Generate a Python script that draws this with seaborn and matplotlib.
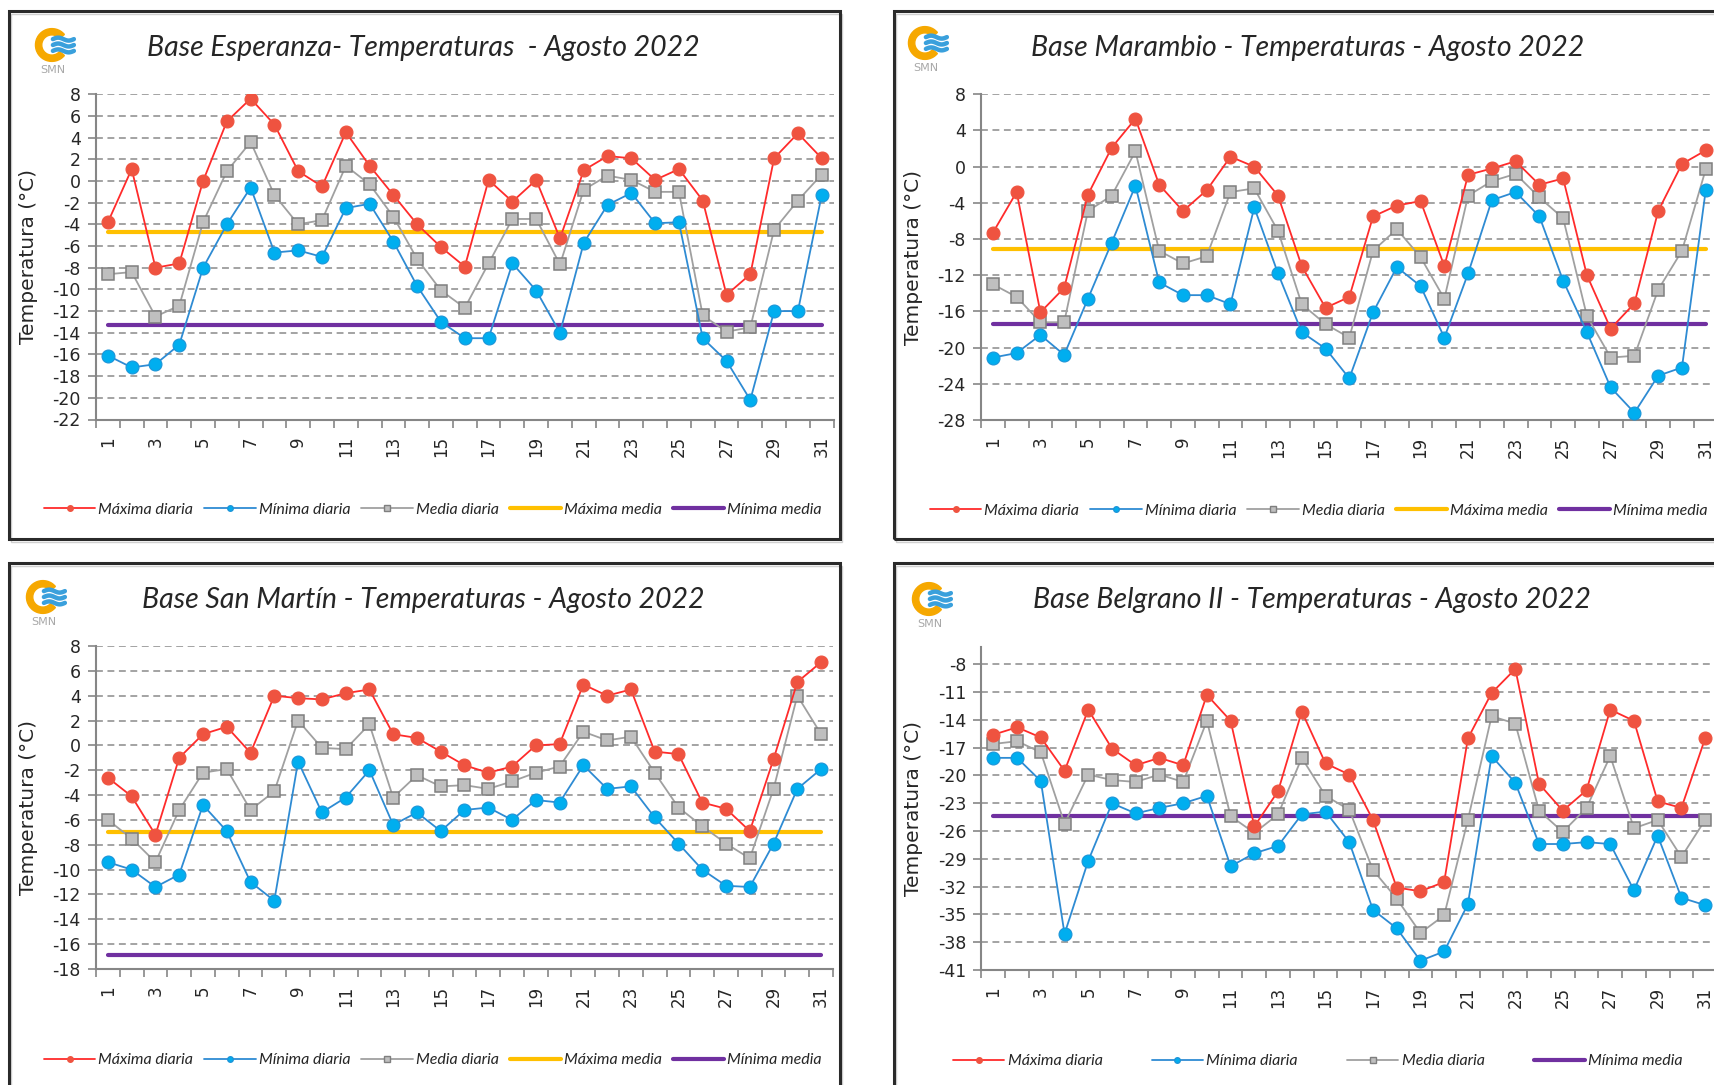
import numpy as np
import pandas as pd
import matplotlib
matplotlib.use("Agg")
import matplotlib.pyplot as plt
from matplotlib.patches import Rectangle, Wedge
from matplotlib.lines import Line2D
import seaborn as sns

# ---------------------------------------------------------------- data
days = list(range(1, 32))
day_labels = [str(d) for d in range(1, 32, 2)]

series_names = ["Máxima diaria", "Mínima diaria", "Media diaria", "Máxima media", "Mínima media"]

esperanza_title = "Base Esperanza- Temperaturas  - Agosto 2022"
esperanza_max = [-3.8, 1.1, -8.0, -7.6, 0.0, 5.5, 7.6, 5.2, 0.9, -0.5, 4.5, 1.4, -1.3, -4.0, -6.1, -7.9,
                 0.1, -1.9, 0.1, -5.3, 1.0, 2.3, 2.1, 0.1, 1.1, -1.8, -10.5, -8.6, 2.1, 4.4, 2.1]
esperanza_min = [-16.1, -17.2, -16.9, -15.1, -8.0, -4.0, -0.6, -6.6, -6.4, -7.0, -2.5, -2.1, -5.6, -9.7, -13.0, -14.5,
                 -14.5, -7.6, -10.1, -14.0, -5.7, -2.2, -1.1, -3.9, -3.8, -14.5, -16.6, -20.2, -12.0, -12.0, -1.3]
esperanza_med = [-8.6, -8.4, -12.5, -11.5, -3.8, 0.9, 3.6, -1.3, -4.0, -3.6, 1.4, -0.3, -3.3, -7.2, -10.1, -11.7,
                 -7.6, -3.5, -3.5, -7.7, -0.8, 0.5, 0.1, -1.0, -1.0, -12.4, -13.9, -13.5, -4.5, -1.8, 0.6]
esperanza_max_media = -4.7
esperanza_min_media = -13.3

marambio_title = "Base Marambio - Temperaturas - Agosto 2022"
marambio_max = [-7.3, -2.8, -16.1, -13.4, -3.1, 2.1, 5.3, -2.0, -4.9, -2.6, 1.1, 0.0, -3.2, -11.0, -15.6, -14.4,
                -5.5, -4.3, -3.8, -11.0, -0.9, -0.2, 0.6, -2.0, -1.3, -12.0, -17.9, -15.1, -4.9, 0.3, 1.8]
marambio_min = [-21.1, -20.6, -18.6, -20.8, -14.6, -8.4, -2.1, -12.8, -14.2, -14.2, -15.2, -4.5, -11.8, -18.3, -20.1, -23.4,
                -16.1, -11.1, -13.2, -18.9, -11.8, -3.7, -2.8, -5.5, -12.6, -18.3, -24.4, -27.2, -23.1, -22.2, -2.6]
marambio_med = [-13.0, -14.4, -17.2, -17.2, -4.9, -3.2, 1.7, -9.3, -10.7, -9.9, -2.8, -2.4, -7.1, -15.2, -17.4, -18.9,
                -9.3, -6.9, -10.0, -14.6, -3.2, -1.6, -0.8, -3.4, -5.7, -16.5, -21.1, -20.9, -13.6, -9.3, -0.3]
marambio_max_media = -9.1
marambio_min_media = -17.4

sanmartin_title = "Base San Martín - Temperaturas - Agosto 2022"
sanmartin_max = [-2.6, -4.1, -7.2, -1.0, 0.9, 1.5, -0.6, 4.0, 3.8, 3.7, 4.2, 4.5, 0.9, 0.6, -0.5, -1.6,
                 -2.2, -1.7, 0.0, 0.1, 4.9, 4.0, 4.5, -0.5, -0.7, -4.6, -5.1, -6.9, -1.1, 5.1, 6.7]
sanmartin_min = [-9.4, -10.0, -11.4, -10.4, -4.8, -6.9, -11.0, -12.5, -1.3, -5.4, -4.2, -2.0, -6.4, -5.4, -6.9, -5.2,
                 -5.0, -6.0, -4.4, -4.6, -1.6, -3.5, -3.3, -5.8, -7.9, -10.0, -11.3, -11.4, -7.9, -3.5, -1.9]
sanmartin_med = [-6.0, -7.5, -9.4, -5.2, -2.2, -1.9, -5.2, -3.7, 2.0, -0.2, -0.3, 1.7, -4.2, -2.4, -3.3, -3.2,
                 -3.5, -2.9, -2.2, -1.7, 1.1, 0.4, 0.7, -2.2, -5.0, -6.5, -7.9, -9.1, -3.5, 4.0, 0.9]
sanmartin_max_media = -7.0
sanmartin_min_media = -16.9

belgrano_title = "Base Belgrano II - Temperaturas - Agosto 2022"
belgrano_max = [-15.6, -14.8, -15.9, -19.5, -12.9, -17.1, -18.9, -18.1, -18.9, -11.3, -14.1, -25.5, -21.7, -13.1, -18.7, -19.9,
                -24.8, -32.1, -32.5, -31.5, -16.0, -11.1, -8.5, -20.9, -23.8, -21.6, -12.9, -14.1, -22.8, -23.5, -16.0]
belgrano_min = [-18.1, -18.1, -20.6, -37.1, -29.2, -23.0, -24.1, -23.5, -23.0, -22.2, -29.8, -28.4, -27.6, -24.2, -23.9, -27.2,
                -34.5, -36.5, -40.0, -39.0, -33.9, -17.9, -20.8, -27.4, -27.4, -27.2, -27.4, -32.4, -26.5, -33.2, -34.0]
belgrano_med = [-16.6, -16.3, -17.5, -25.2, -19.9, -20.5, -20.7, -19.9, -20.7, -14.1, -24.4, -26.2, -24.2, -18.1, -22.2, -23.7,
                -30.2, -33.3, -37.0, -35.1, -24.8, -13.6, -14.4, -23.8, -26.1, -23.5, -17.9, -25.7, -24.8, -28.8, -24.8]
belgrano_max_media = None
belgrano_min_media = -24.4

esperanza_yticks = list(range(-22, 9, 2))
marambio_yticks = list(range(-28, 9, 4))
sanmartin_yticks = list(range(-18, 9, 2))
belgrano_yticks = list(range(-41, -7, 3))

# ---------------------------------------------------------------- styling
W, H = 1715, 1085
sns.set_theme(style="white")
plt.rcParams["font.family"] = ["DejaVu Sans"]

C_MAX_LINE, C_MAX_MK = "#FF2B2B", "#EF5340"
C_MIN_LINE, C_MIN_MK, C_MIN_EDGE = "#2E8BD3", "#00AEEF", "#1D95D8"
C_MED_LINE, C_MED_MK, C_MED_EDGE = "#A0A0A0", "#BFBFBF", "#7F7F7F"
C_MAXMED = "#FFC000"
C_MINMED = "#7030A0"
C_AXIS = "#868686"
C_GRID = "#8A8A8A"
C_TEXT = "#262626"

TITLE_FONT = dict(family=["Lato", "DejaVu Sans"], style="italic", size=20.5, color=C_TEXT)
LEGEND_FONT = dict(family=["Lato", "DejaVu Sans"], style="italic", size=11.5)


def fig_box(x0, y0, x1, y1):
    return [x0 / W, 1 - y1 / H, (x1 - x0) / W, (y1 - y0) / H]


panels = [
    dict(title=esperanza_title, tmax=esperanza_max, tmin=esperanza_min, tmed=esperanza_med,
         maxmed=esperanza_max_media, minmed=esperanza_min_media, yticks=esperanza_yticks, ylim=(-22, 8),
         frame=(9, 11, 840, 539), axes=(96, 94.3, 833.6, 419.5), title_xy=(423, 48),
         logo_xy=(55, 45), legend_xy=(433, 510), legend_gap=0.7),
    dict(title=marambio_title, tmax=marambio_max, tmin=marambio_min, tmed=marambio_med,
         maxmed=marambio_max_media, minmed=marambio_min_media, yticks=marambio_yticks, ylim=(-28, 8),
         frame=(894, 11, 1730, 539), axes=(981, 94.3, 1717.6, 420), title_xy=(1308, 48),
         logo_xy=(928, 43), legend_xy=(1319, 511), legend_gap=0.7),
    dict(title=sanmartin_title, tmax=sanmartin_max, tmin=sanmartin_min, tmed=sanmartin_med,
         maxmed=sanmartin_max_media, minmed=sanmartin_min_media, yticks=sanmartin_yticks, ylim=(-18, 8),
         frame=(9, 563, 840, 1100), axes=(96, 646, 833, 969), title_xy=(423, 600),
         logo_xy=(46, 597), legend_xy=(433, 1060), legend_gap=0.7),
    dict(title=belgrano_title, tmax=belgrano_max, tmin=belgrano_min, tmed=belgrano_med,
         maxmed=belgrano_max_media, minmed=belgrano_min_media, yticks=belgrano_yticks, ylim=(-41, -6.1),
         frame=(894, 563, 1730, 1100), axes=(981.5, 646.7, 1717, 970), title_xy=(1312, 600),
         logo_xy=(932, 599), legend_xy=(1318, 1061), legend_gap=3.1),
]


def draw_logo(fig, cx, cy):
    size = 42
    lax = fig.add_axes(fig_box(cx - size / 2, cy - size / 2, cx + size / 2, cy + size / 2))
    lax.set_xlim(-1, 1)
    lax.set_ylim(-1, 1)
    lax.set_aspect("equal")
    lax.axis("off")
    lax.add_patch(Wedge((-0.15, 0.0), 0.78, 40, 320, width=0.3, color="#F6A800"))
    t = np.linspace(-0.1, 0.9, 40)
    for off in (0.28, 0.0, -0.28):
        lax.plot(t, off + 0.07 * np.sin((t + 0.1) * 2 * np.pi), color="#3AA0DC", lw=3.2,
                 solid_capstyle="round")
    fig.text((cx - 2) / W, 1 - (cy + 25) / H, "SMN", ha="center", va="center",
             fontsize=8, color="#A8A8A8")


fig = plt.figure(figsize=(W / 100, H / 100), dpi=100)
fig.patch.set_facecolor("white")

for p in panels:
    # panel frame
    x0, y0, x1, y1 = p["frame"]
    fig.patches.append(Rectangle((x0 / W, 1 - y1 / H), (x1 - x0) / W, (y1 - y0) / H,
                                 transform=fig.transFigure, fill=False,
                                 edgecolor="#2A2A2A", linewidth=2.2, zorder=0))
    fig.patches.append(Rectangle(((x0 + 2) / W, 1 - (y1 + 3) / H), (x1 - x0) / W, (y1 - y0) / H,
                                 transform=fig.transFigure, fill=False,
                                 edgecolor="#D0D0D0", linewidth=1.0, zorder=-1))

    ax = fig.add_axes(fig_box(*p["axes"]))
    ax.set_facecolor("none")

    # monthly mean lines
    if p["maxmed"] is not None:
        sns.lineplot(x=days, y=[p["maxmed"]] * len(days), ax=ax, color=C_MAXMED, lw=3.0,
                     legend=False, zorder=2)
    sns.lineplot(x=days, y=[p["minmed"]] * len(days), ax=ax, color=C_MINMED, lw=3.0,
                 legend=False, zorder=2)

    # daily series
    sns.lineplot(x=days, y=p["tmed"], ax=ax, color=C_MED_LINE, lw=1.3, marker="s", markersize=8.8,
                 markerfacecolor=C_MED_MK, markeredgecolor=C_MED_EDGE, markeredgewidth=1.1,
                 legend=False, zorder=3)
    sns.lineplot(x=days, y=p["tmin"], ax=ax, color=C_MIN_LINE, lw=1.3, marker="o", markersize=9.3,
                 markerfacecolor=C_MIN_MK, markeredgecolor=C_MIN_EDGE, markeredgewidth=0.8,
                 legend=False, zorder=4)
    sns.lineplot(x=days, y=p["tmax"], ax=ax, color=C_MAX_LINE, lw=1.3, marker="o", markersize=9.3,
                 markerfacecolor=C_MAX_MK, markeredgecolor=C_MAX_MK, markeredgewidth=0.8,
                 legend=False, zorder=5)

    ax.set_xlim(0.5, 31.5)
    ax.set_ylim(*p["ylim"])
    ax.set_yticks(p["yticks"])
    ax.set_yticklabels([str(v) for v in p["yticks"]])
    ax.set_xticks(range(1, 32, 2))
    ax.set_xticklabels(day_labels)
    ax.set_xticks(np.arange(0.5, 32, 1), minor=True)
    ax.set_xlabel("")
    ax.set_ylabel("Temperatura (°C)", fontsize=14.5, color=C_TEXT)
    # right edge of the rotated label sits about 29 px right of the panel frame
    ax.yaxis.set_label_coords(-(p["axes"][0] - p["frame"][0] - 29) / (p["axes"][2] - p["axes"][0]), 0.5)

    ax.yaxis.grid(True, linestyle=(0, (4.5, 3)), color=C_GRID, lw=1.1)
    ax.xaxis.grid(False)
    ax.set_axisbelow(True)
    for side in ("top", "right"):
        ax.spines[side].set_visible(False)
    for side in ("left", "bottom"):
        ax.spines[side].set_color(C_AXIS)
        ax.spines[side].set_linewidth(1.5)

    ax.tick_params(axis="y", which="major", direction="out", length=6, width=1.2, color=C_AXIS,
                   pad=5, labelsize=12.5, labelcolor=C_TEXT, left=True)
    ax.tick_params(axis="x", which="major", length=0, pad=12, labelsize=12, labelcolor=C_TEXT,
                   labelrotation=90, bottom=True)
    ax.tick_params(axis="x", which="minor", direction="out", length=6, width=1.2, color=C_AXIS,
                   bottom=True)

    # title and logo
    tx, ty = p["title_xy"]
    fig.text(tx / W, 1 - ty / H, p["title"], ha="center", va="center", **TITLE_FONT)
    draw_logo(fig, *p["logo_xy"])

    # legend
    handles = [
        Line2D([], [], color=C_MAX_LINE, lw=1.3, marker="o", markersize=4,
               markerfacecolor=C_MAX_MK, markeredgecolor=C_MAX_MK),
        Line2D([], [], color=C_MIN_LINE, lw=1.3, marker="o", markersize=4,
               markerfacecolor=C_MIN_MK, markeredgecolor=C_MIN_EDGE),
        Line2D([], [], color=C_MED_LINE, lw=1.3, marker="s", markersize=4,
               markerfacecolor=C_MED_MK, markeredgecolor=C_MED_EDGE),
    ]
    labels = series_names[:3]
    if p["maxmed"] is not None:
        handles.append(Line2D([], [], color=C_MAXMED, lw=3.0))
        labels.append(series_names[3])
    handles.append(Line2D([], [], color=C_MINMED, lw=3.0))
    labels.append(series_names[4])
    lx, ly = p["legend_xy"]
    fig.legend(handles, labels, loc="center", bbox_to_anchor=(lx / W, 1 - ly / H),
               ncol=len(handles), frameon=False, prop=LEGEND_FONT, handlelength=3.2,
               handletextpad=0.2, columnspacing=p["legend_gap"], labelcolor=C_TEXT)

fig.savefig("out.png", dpi=100, facecolor="white")
